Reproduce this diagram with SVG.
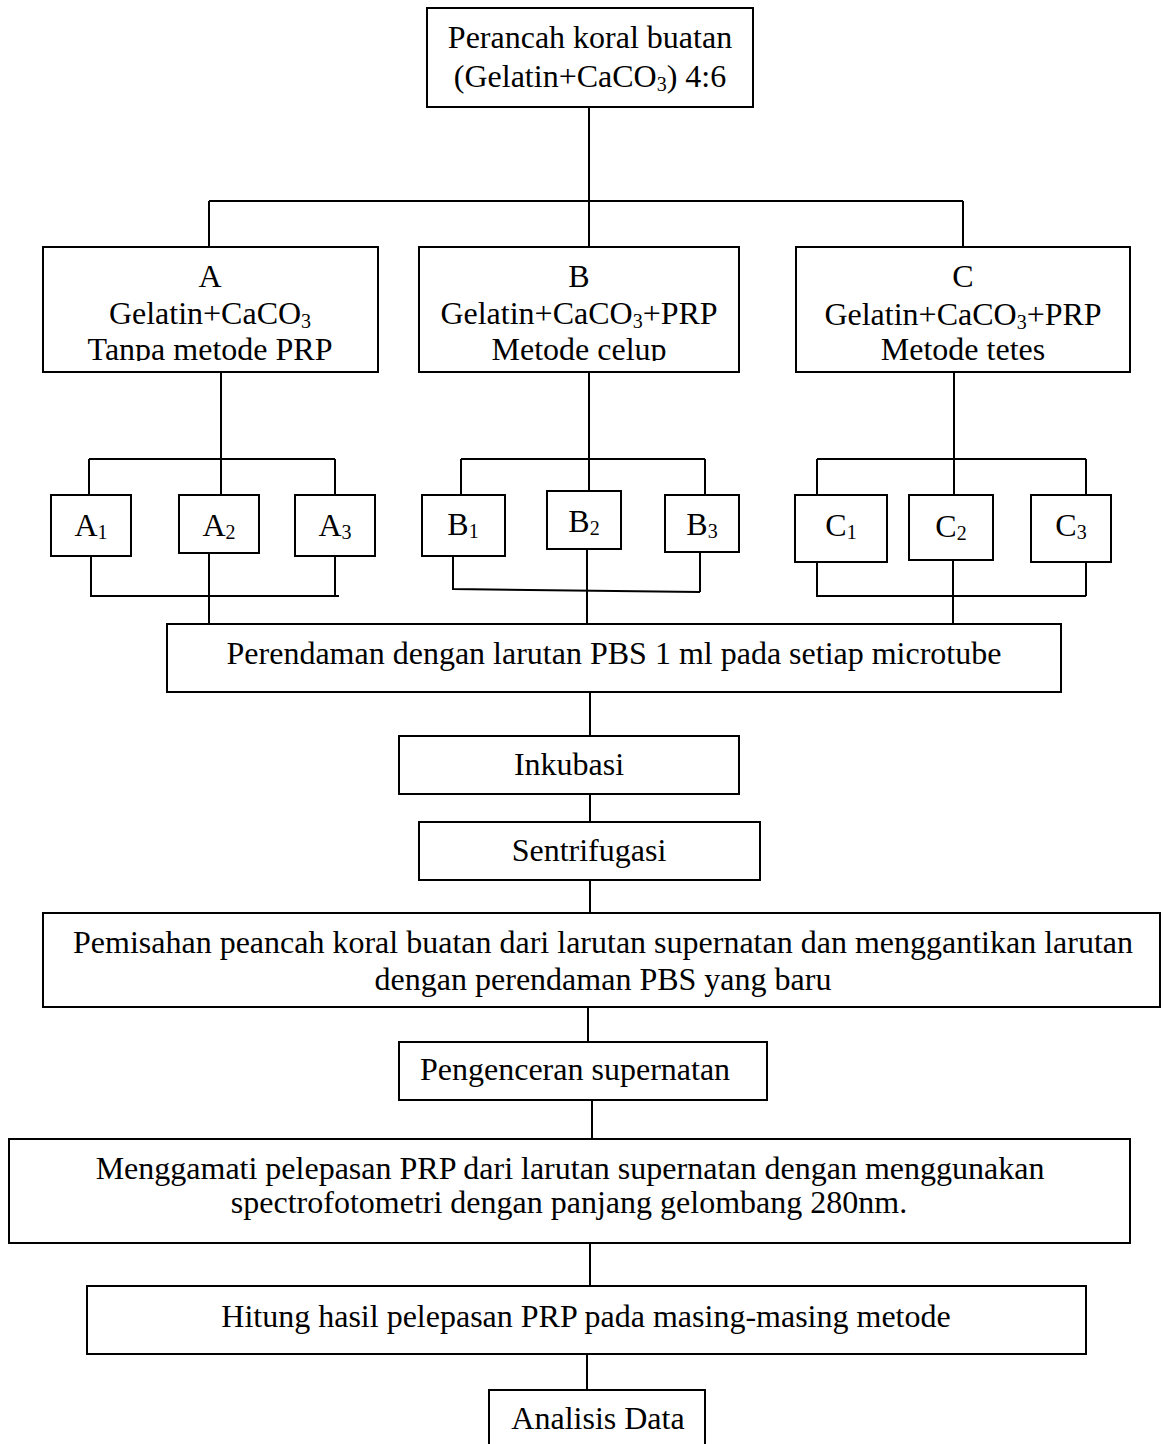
<svg xmlns="http://www.w3.org/2000/svg" width="1163" height="1444" viewBox="0 0 1163 1444">
<style>
  rect.box { fill: #fff; stroke: #000; stroke-width: 2; }
  text { font-family: "Liberation Serif", "Times New Roman", serif; font-size: 32px; fill: #000; }
  text.c { text-anchor: middle; }
  .sub { font-size: 20px; }
  #connectors path { fill: none; stroke: #000; stroke-width: 2; }
</style>
<defs>
  <clipPath id="clipA"><rect x="43" y="247" width="335" height="114"/></clipPath>
  <clipPath id="clipB"><rect x="419" y="247" width="320" height="114"/></clipPath>
</defs>
<rect width="1163" height="1444" fill="#fff"/>

<g id="connectors">
  <path d="M589 107 V247"/>
  <path d="M209 201 H963"/>
  <path d="M209 201 V247"/>
  <path d="M963 201 V247"/>
  <!-- A group -->
  <path d="M221 372 V459"/>
  <path d="M89 459 H335"/>
  <path d="M89 459 V495 M221 459 V495 M335 459 V495"/>
  <path d="M91 556 V596 H339 M335 556 V596"/>
  <path d="M209 553 V624"/>
  <!-- B group -->
  <path d="M589 372 V491"/>
  <path d="M461 459 H705"/>
  <path d="M461 459 V495 M705 459 V495"/>
  <path d="M453 556 V589 L700 592 M700 552 V592"/>
  <path d="M587 549 V624"/>
  <!-- C group -->
  <path d="M954 372 V495"/>
  <path d="M817 459 H1086"/>
  <path d="M817 459 V495 M1086 459 V495"/>
  <path d="M817 562 V596 H1086 M1086 562 V596"/>
  <path d="M953 560 V624"/>
  <!-- main chain -->
  <path d="M590 692 V736"/>
  <path d="M590 794 V822"/>
  <path d="M590 880 V913"/>
  <path d="M588 1007 V1042"/>
  <path d="M592 1100 V1139"/>
  <path d="M590 1243 V1286"/>
  <path d="M587 1354 V1390"/>
</g>

<g id="node-top">
  <rect class="box" x="427" y="8" width="326" height="99"/>
  <text class="c" x="590" y="48">Perancah koral buatan</text>
  <text class="c" x="590" y="87">(Gelatin+CaCO<tspan class="sub" dy="4">3</tspan><tspan dy="-4">) 4:6</tspan></text>
</g>

<g id="node-A">
  <rect class="box" x="43" y="247" width="335" height="125"/>
  <g clip-path="url(#clipA)">
    <text class="c" x="210" y="287">A</text>
    <text class="c" x="210" y="324">Gelatin+CaCO<tspan class="sub" dy="4">3</tspan></text>
    <text class="c" x="210" y="360">Tanpa metode PRP</text>
  </g>
</g>

<g id="node-B">
  <rect class="box" x="419" y="247" width="320" height="125"/>
  <g clip-path="url(#clipB)">
    <text class="c" x="579" y="287">B</text>
    <text class="c" x="579" y="324">Gelatin+CaCO<tspan class="sub" dy="4">3</tspan><tspan dy="-4">+PRP</tspan></text>
    <text class="c" x="579" y="360">Metode celup</text>
  </g>
</g>

<g id="node-C">
  <rect class="box" x="796" y="247" width="334" height="125"/>
  <text class="c" x="963" y="287">C</text>
  <text class="c" x="963" y="325">Gelatin+CaCO<tspan class="sub" dy="4">3</tspan><tspan dy="-4">+PRP</tspan></text>
  <text class="c" x="963" y="360">Metode tetes</text>
</g>

<g id="node-A1"><rect class="box" x="51" y="495" width="80" height="61"/><text class="c" x="91" y="536">A<tspan class="sub" dy="3">1</tspan></text></g>
<g id="node-A2"><rect class="box" x="179" y="495" width="80" height="58"/><text class="c" x="219" y="536">A<tspan class="sub" dy="3">2</tspan></text></g>
<g id="node-A3"><rect class="box" x="295" y="495" width="80" height="61"/><text class="c" x="335" y="536">A<tspan class="sub" dy="3">3</tspan></text></g>
<g id="node-B1"><rect class="box" x="422" y="495" width="83" height="61"/><text class="c" x="463" y="535">B<tspan class="sub" dy="3">1</tspan></text></g>
<g id="node-B2"><rect class="box" x="547" y="491" width="74" height="58"/><text class="c" x="584" y="532">B<tspan class="sub" dy="3">2</tspan></text></g>
<g id="node-B3"><rect class="box" x="665" y="495" width="74" height="57"/><text class="c" x="702" y="535">B<tspan class="sub" dy="3">3</tspan></text></g>
<g id="node-C1"><rect class="box" x="795" y="495" width="92" height="67"/><text class="c" x="841" y="536">C<tspan class="sub" dy="3">1</tspan></text></g>
<g id="node-C2"><rect class="box" x="909" y="495" width="84" height="65"/><text class="c" x="951" y="537">C<tspan class="sub" dy="3">2</tspan></text></g>
<g id="node-C3"><rect class="box" x="1031" y="495" width="80" height="67"/><text class="c" x="1071" y="536">C<tspan class="sub" dy="3">3</tspan></text></g>

<g id="node-perendaman">
  <rect class="box" x="167" y="624" width="894" height="68"/>
  <text class="c" x="614" y="664">Perendaman dengan larutan PBS 1 ml pada setiap microtube</text>
</g>

<g id="node-inkubasi">
  <rect class="box" x="399" y="736" width="340" height="58"/>
  <text class="c" x="569" y="775">Inkubasi</text>
</g>

<g id="node-sentrifugasi">
  <rect class="box" x="419" y="822" width="341" height="58"/>
  <text class="c" x="589" y="861">Sentrifugasi</text>
</g>

<g id="node-pemisahan">
  <rect class="box" x="43" y="913" width="1117" height="94"/>
  <text class="c" x="603" y="953">Pemisahan peancah koral buatan dari larutan supernatan dan menggantikan larutan</text>
  <text class="c" x="603" y="990">dengan perendaman PBS yang baru</text>
</g>

<g id="node-pengenceran">
  <rect class="box" x="399" y="1042" width="368" height="58"/>
  <text x="420" y="1080">Pengenceran supernatan</text>
</g>

<g id="node-menggamati">
  <rect class="box" x="9" y="1139" width="1121" height="104"/>
  <text class="c" x="570" y="1179">Menggamati pelepasan PRP dari larutan supernatan dengan menggunakan</text>
  <text class="c" x="569" y="1213">spectrofotometri dengan panjang gelombang 280nm.</text>
</g>

<g id="node-hitung">
  <rect class="box" x="87" y="1286" width="999" height="68"/>
  <text class="c" x="586" y="1327">Hitung hasil pelepasan PRP pada masing-masing metode</text>
</g>

<g id="node-analisis">
  <rect class="box" x="489" y="1390" width="216" height="70"/>
  <text class="c" x="598" y="1429">Analisis Data</text>
</g>
</svg>
